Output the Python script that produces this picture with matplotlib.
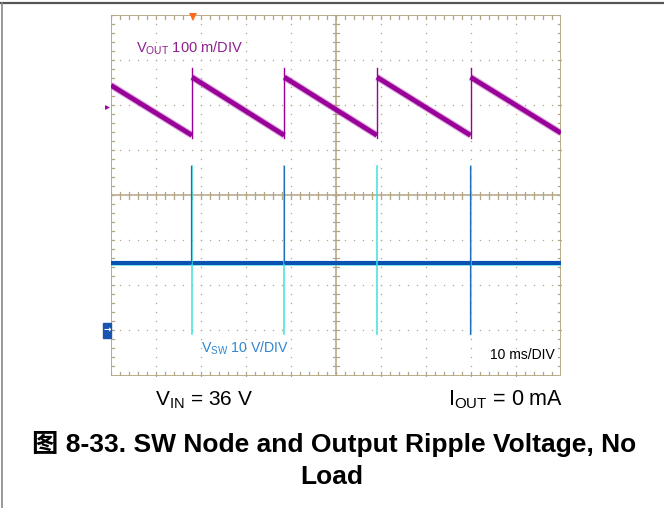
import numpy as np
import matplotlib.pyplot as plt
from matplotlib.patches import Rectangle

plt.rcParams['font.family'] = ['Liberation Sans', 'Noto Sans CJK SC', 'DejaVu Sans']
plt.rcParams['mathtext.fontset'] = 'custom'
plt.rcParams['mathtext.rm'] = 'Liberation Sans'
plt.rcParams['mathtext.default'] = 'regular'

# scope settings
t_per_div = 10.0        # ms/DIV
vout_per_div = 100.0    # mV/DIV
vsw_per_div = 10.0      # V/DIV
vout_offset = 1.95      # channel marker position (div)
vsw_offset = -3.0

# switching events (ms)
switch_t = [18.0, 38.5, 59.1, 79.9]

# VOUT ripple (mV, relative to marker)
vout_start = 49
vout_end = -57
vout_low = -62          # just before each switching pulse
vout_high = 67          # just after each pulse
vout_peak = 87
vout_jump_bottom = -68

# VSW (V, relative to ground marker)
vsw_base = 14.9
vsw_peak = 36.4
vsw_dip = -0.7

GRID = '#b3a684'
PURPLE = '#990099'
BLUE = '#0a52b2'
CYAN = '#3fe0e0'

fig = plt.figure(figsize=(6.64, 5.08), dpi=100)
W, H = 664, 508
ax = fig.add_axes([111 / W, 1 - 375.5 / H, 450 / W, 360.5 / H])
ax.set_xlim(0, 100)
ax.set_ylim(-4, 4)
ax.axis('off')

# page frame lines
fig.add_artist(plt.Line2D([0, 1], [1 - 3 / H, 1 - 3 / H], color='#555555', lw=1.6))
fig.add_artist(plt.Line2D([1.5 / W, 1.5 / W], [0, 1 - 3 / H], color='#888888', lw=1.2))

# graticule
ax.add_patch(Rectangle((0, -4), 100, 8, fill=False, ec=GRID, lw=1.3, zorder=1))
sub_x = np.arange(0, 100.01, 2)
sub_y = np.arange(-4, 4.01, 0.2)
for gx in range(10, 100, 10):
    if gx != 50:
        ax.plot(np.full(len(sub_y), gx), sub_y, ls='none', marker='s', ms=0.9,
                color=GRID, mew=0, zorder=1)
for gy in range(-3, 4):
    if gy != 0:
        ax.plot(sub_x, np.full(len(sub_x), gy), ls='none', marker='s', ms=0.9,
                color=GRID, mew=0, zorder=1)
ax.axvline(50, color=GRID, lw=1.1, zorder=1)
ax.axhline(0, color=GRID, lw=1.1, zorder=1)
tx, ty = 0.7, 0.08
for x in sub_x:
    ax.plot([x, x], [-ty, ty], color=GRID, lw=0.9, zorder=1)
    ax.plot([x, x], [4, 4 - ty], color=GRID, lw=0.9, zorder=1)
    ax.plot([x, x], [-4, -4 + ty], color=GRID, lw=0.9, zorder=1)
for y in sub_y:
    ax.plot([50 - tx, 50 + tx], [y, y], color=GRID, lw=0.9, zorder=1)
    ax.plot([0, tx], [y, y], color=GRID, lw=0.9, zorder=1)
    ax.plot([100 - tx, 100], [y, y], color=GRID, lw=0.9, zorder=1)

# VSW trace
base = vsw_offset + vsw_base / vsw_per_div
ax.plot([0, 100], [base, base], color=BLUE, lw=3.0, zorder=3, solid_capstyle='butt')
ax.plot([0, 100], [base - 0.035, base - 0.035], color=CYAN, lw=0.6, alpha=0.7, zorder=3)
for i, t in enumerate(switch_t):
    top = vsw_offset + vsw_peak / vsw_per_div
    bot = vsw_offset + vsw_dip / vsw_per_div
    ax.plot([t, t], [bot, top], color=CYAN, lw=1.1, zorder=4)
    if i != 2:
        ax.plot([t - 0.15, t - 0.15], [base, top], color=BLUE, lw=0.9, alpha=0.8, zorder=4)
    if i == 3:
        ax.plot([t - 0.15, t - 0.15], [bot, base], color=BLUE, lw=0.9, alpha=0.8, zorder=4)

# VOUT trace
seg_t = [0] + switch_t
seg_end = switch_t + [100]
for k, (t0, t1) in enumerate(zip(seg_t, seg_end)):
    v0 = vout_start if k == 0 else vout_high
    v1 = vout_end if t1 == 100 else vout_low
    y0 = vout_offset + v0 / vout_per_div
    y1 = vout_offset + v1 / vout_per_div
    ax.plot([t0, t1], [y0, y1], color='#c060c0', lw=5.0, alpha=0.5, zorder=5,
            solid_capstyle='butt')
    ax.plot([t0, t1], [y0, y1], color=PURPLE, lw=3.4, zorder=5, solid_capstyle='butt')
for t in switch_t:
    ax.plot([t, t], [vout_offset + vout_jump_bottom / vout_per_div,
                     vout_offset + vout_peak / vout_per_div],
            color=PURPLE, lw=1.0, zorder=5)

# channel / trigger markers
ax.plot([-0.9], [vout_offset], marker='>', ms=3.5, color=PURPLE, mew=0, clip_on=False)
ax.add_patch(Rectangle((-1.8, vsw_offset - 0.17), 1.8, 0.34, color='#1a56b0',
                       clip_on=False, zorder=6))
ax.text(-0.9, vsw_offset, '\u2192', color='white', fontsize=6.5, fontweight='bold',
        ha='center', va='center', clip_on=False, zorder=7, family='DejaVu Sans')
ax.plot([18.2], [3.95], marker='v', ms=6, color='#ff6a1a', mew=0, clip_on=False, zorder=7)

# labels on screen
ax.text(5.5, 3.25, r'V$_{OUT}$ 100 m/DIV', color='#8e1f8e', fontsize=10.5,
        ha='left', va='center')
ax.text(19.9, -3.4, r'V$_{SW}$ 10 V/DIV', color='#2f86d0', fontsize=10.2,
        ha='left', va='center')
ax.text(98.5, -3.55, '10 ms/DIV', color='black', fontsize=10, ha='right', va='center')

# conditions and caption
fig.text(155 / W, 1 - 400 / H, r'V$_{IN}$ = 36 V', fontsize=15, ha='left', va='center')
fig.text(448 / W, 1 - 400 / H, r'I$_{OUT}$ = 0 mA', fontsize=15.5, ha='left', va='center')
fig.text(0.503, 1 - 444 / H, '图 8-33. SW Node and Output Ripple Voltage, No',
         fontsize=19, fontweight='bold', ha='center', va='center')
fig.text(0.5, 1 - 477 / H, 'Load', fontsize=19, fontweight='bold', ha='center', va='center')

fig.savefig('out.png', dpi=100)
